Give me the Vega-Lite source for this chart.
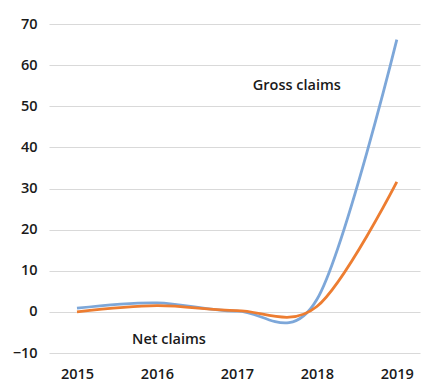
{
  "$schema": "https://vega.github.io/schema/vega-lite/v6.json",
  "width": 371,
  "height": 329,
  "padding": {"left": 49, "top": 24, "right": 1, "bottom": 30},
  "autosize": {"type": "none"},
  "background": "white",
  "config": {
    "view": {"stroke": null},
    "font": "Open Sans",
    "axis": {"labelFont": "Open Sans", "labelFontSize": 14.5, "labelFontWeight": 600, "labelColor": "#1a1a1a", "domain": false, "ticks": false, "title": null}
  },
  "datasets": {
    "lines": [
      {"year": 2015, "value": 0.9, "series": "Gross claims"},
      {"year": 2016, "value": 2.2, "series": "Gross claims"},
      {"year": 2017, "value": 0.2, "series": "Gross claims"},
      {"year": 2018, "value": 3.0, "series": "Gross claims"},
      {"year": 2019, "value": 66.2, "series": "Gross claims"},
      {"year": 2015, "value": 0.0, "series": "Net claims"},
      {"year": 2016, "value": 1.5, "series": "Net claims"},
      {"year": 2017, "value": 0.3, "series": "Net claims"},
      {"year": 2018, "value": 1.3, "series": "Net claims"},
      {"year": 2019, "value": 31.6, "series": "Net claims"}
    ],
    "labels": [
      {"year": 2017.75, "value": 55, "label": "Gross claims"},
      {"year": 2016.15, "value": -6.9, "label": "Net claims"}
    ]
  },
  "layer": [
    {
      "data": {"name": "lines"},
      "mark": {"type": "line", "interpolate": "cardinal", "tension": 0, "strokeWidth": 2.8},
      "encoding": {
        "x": {"field": "year", "type": "quantitative", "scale": {"domain": [2014.65, 2019.29], "nice": false, "zero": false},
              "axis": {"values": [2015, 2016, 2017, 2018, 2019], "format": "d", "grid": false, "labelPadding": 14, "labelFlush": false}},
        "y": {"field": "value", "type": "quantitative", "scale": {"domain": [-10, 70], "nice": false},
              "axis": {"values": [-10, 0, 10, 20, 30, 40, 50, 60, 70], "grid": true, "gridColor": "#d9d9d9", "gridWidth": 1, "labelPadding": 12}},
        "color": {"field": "series", "type": "nominal", "scale": {"domain": ["Gross claims", "Net claims"], "range": ["#7da7d9", "#ed7d31"]}, "legend": null}
      }
    },
    {
      "data": {"name": "labels"},
      "mark": {"type": "text", "fontSize": 14.5, "fontWeight": 600, "color": "#1a1a1a", "font": "Open Sans"},
      "encoding": {
        "x": {"field": "year", "type": "quantitative"},
        "y": {"field": "value", "type": "quantitative"},
        "text": {"field": "label"}
      }
    }
  ]
}
